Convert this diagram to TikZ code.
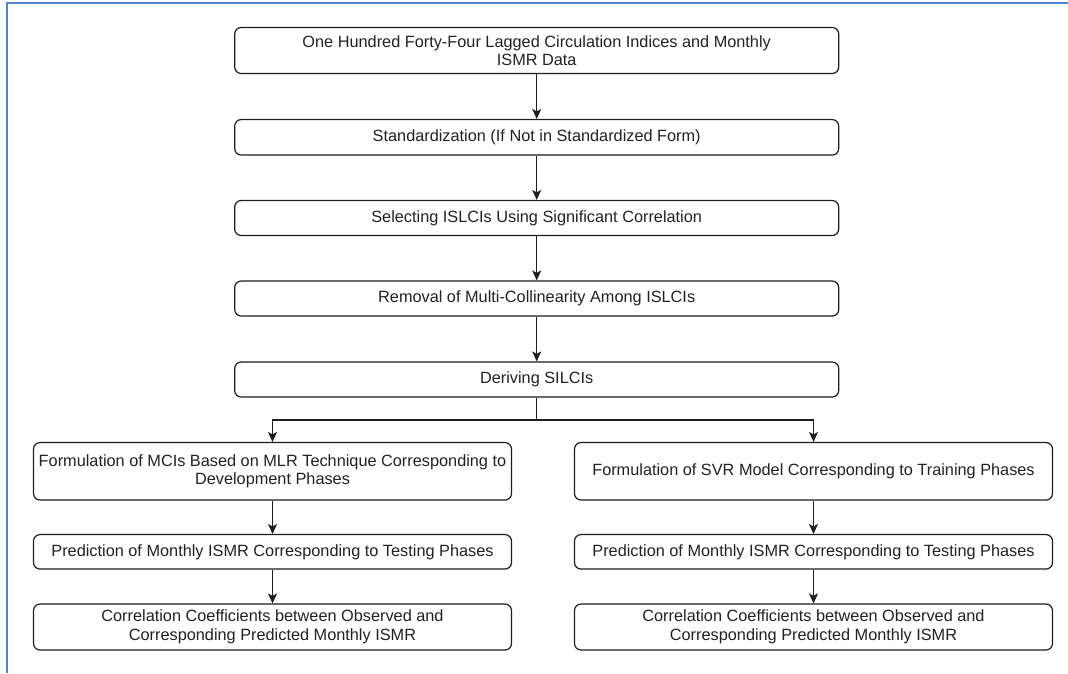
\documentclass[tikz,border=0pt]{standalone}
\usepackage{fontspec}
\setmainfont{Liberation Sans}
\usetikzlibrary{arrows.meta}
\definecolor{frameblue}{HTML}{4F86D3}
\definecolor{txt}{HTML}{222222}
\definecolor{edge}{HTML}{1E1E1E}
\tikzset{
  box/.style={draw=edge, line width=1.2pt, rounded corners=6.5pt, fill=white,
    text=txt, align=center, inner sep=2pt,
    font=\fontsize{16.3}{18.5}\selectfont},
  arr/.style={draw=edge, line width=1.2pt, -{Stealth[length=10pt,width=9pt,inset=2.5pt]}},
}
\begin{document}
\begin{tikzpicture}[x=1pt,y=-1pt]
\useasboundingbox (0,0) rectangle (1068,673);
\fill[white] (0,0) rectangle (1068,673);
\draw[frameblue, line width=2pt] (7.3,673) -- (7.3,3.3) -- (1068,3.3);

\node[box, minimum width=604pt, minimum height=46pt] (b1) at (536.7,50.5)
  {One Hundred Forty-Four Lagged Circulation Indices and Monthly\\ISMR Data};
\node[box, minimum width=604pt, minimum height=35.5pt] (b2) at (536.7,137.3)
  {Standardization (If Not in Standardized Form)};
\node[box, minimum width=604pt, minimum height=35pt] (b3) at (536.7,218)
  {Selecting ISLCIs Using Significant Correlation};
\node[box, minimum width=604pt, minimum height=35pt] (b4) at (536.7,298.5)
  {Removal of Multi-Collinearity Among ISLCIs};
\node[box, minimum width=604pt, minimum height=35pt] (b5) at (536.7,379.5)
  {Deriving SILCIs};

\node[box, minimum width=478pt, minimum height=57.5pt] (l1) at (272.5,471.3)
  {Formulation of MCIs Based on MLR Technique Corresponding to\\Development Phases};
\node[box, minimum width=478pt, minimum height=34.5pt] (l2) at (272.5,551.8)
  {Prediction of Monthly ISMR Corresponding to Testing Phases};
\node[box, minimum width=478pt, minimum height=46pt] (l3) at (272.5,627)
  {Correlation Coefficients between Observed and\\Corresponding Predicted Monthly ISMR};

\node[box, minimum width=478pt, minimum height=57.5pt] (r1) at (813.5,471.3)
  {Formulation of SVR Model Corresponding to Training Phases};
\node[box, minimum width=478pt, minimum height=34.5pt] (r2) at (813.5,551.8)
  {Prediction of Monthly ISMR Corresponding to Testing Phases};
\node[box, minimum width=478pt, minimum height=46pt] (r3) at (813.5,627)
  {Correlation Coefficients between Observed and\\Corresponding Predicted Monthly ISMR};

\coordinate (split) at (536.7,420);

\draw[arr] (b1) -- (b2);
\draw[arr] (b2) -- (b3);
\draw[arr] (b3) -- (b4);
\draw[arr] (b4) -- (b5);
\draw[draw=edge, line width=1.2pt] (b5.south) -- (split);
\draw[arr] (split) -| (l1.north);
\draw[arr] (split) -| (r1.north);
\draw[arr] (l1) -- (l2);
\draw[arr] (l2) -- (l3);
\draw[arr] (r1) -- (r2);
\draw[arr] (r2) -- (r3);
\end{tikzpicture}
\end{document}
